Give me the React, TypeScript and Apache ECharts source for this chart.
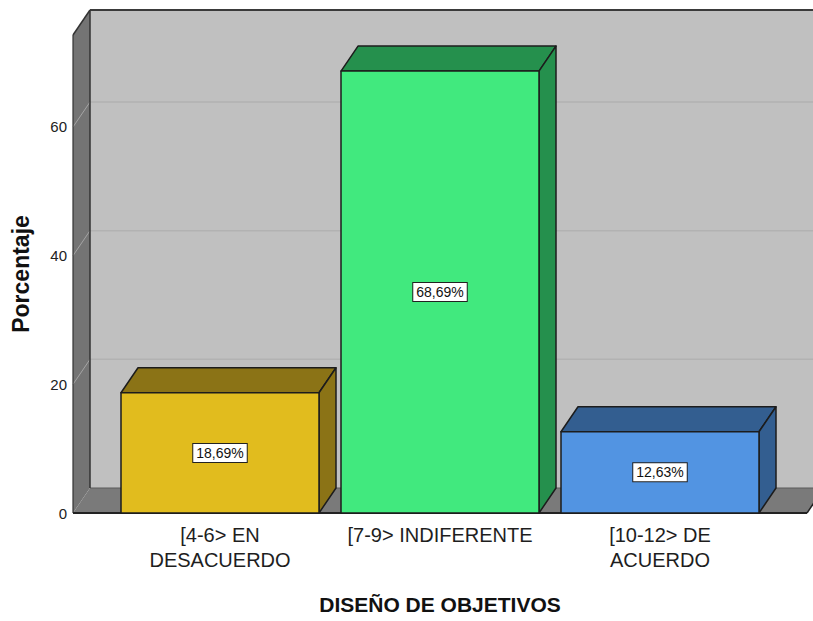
import React, { useEffect, useRef } from "react";
import * as echarts from "echarts";

const categories = ["[4-6> EN\nDESACUERDO", "[7-9> INDIFERENTE", "[10-12> DE\nACUERDO"];
const percentages = [18.69, 68.69, 12.63];
const frontColors = ["#E1BC1E", "#41E97E", "#5294E2"];
const sideColors = ["#8B7316", "#25904D", "#335E90"];
const yTicks = [0, 20, 40, 60];
const yMax = 74.3;
const xTitle = "DISEÑO DE OBJETIVOS";
const yTitle = "Porcentaje";

const DX = 17;
const DY = -25;
const FONT = "'Liberation Sans', Arial, sans-serif";

const fmt = (v: number) => v.toFixed(2).replace(".", ",") + "%";

export default function App() {
  const ref = useRef<HTMLDivElement>(null);
  useEffect(() => {
    if (!ref.current) return;
    const chart = echarts.init(ref.current, null, { renderer: "svg" });
    const option: any = {
      animation: false,
      backgroundColor: "#ffffff",
      grid: { left: 110, right: 43, top: 35, bottom: 108 },
      xAxis: {
        type: "category",
        data: categories,
        axisLine: { show: false },
        axisTick: { show: false },
        axisLabel: {
          interval: 0,
          hideOverlap: false,
          margin: 9,
          fontSize: 20,
          lineHeight: 25,
          color: "#1e1e1e",
          fontFamily: FONT,
        },
        name: xTitle,
        nameLocation: "middle",
        nameGap: 81,
        nameTextStyle: { fontSize: 21, fontWeight: "bold", color: "#111", fontFamily: FONT },
      },
      yAxis: {
        type: "value",
        min: 0,
        max: yMax,
        interval: 20,
        splitLine: { show: false },
        axisLine: { show: false },
        axisTick: { show: false },
        axisLabel: {
          margin: 43,
          fontSize: 15,
          color: "#222",
          fontFamily: FONT,
          formatter: (v: number) => (yTicks.includes(v) ? String(v) : ""),
        },
        name: yTitle,
        nameLocation: "middle",
        nameGap: 78,
        nameTextStyle: { fontSize: 23, fontWeight: "bold", color: "#111", fontFamily: FONT },
      },
      series: [
        {
          type: "custom",
          silent: true,
          data: [[0, 0]],
          renderItem: (params: any, api: any) => {
            const cs = params.coordSys;
            const L = cs.x - 37;
            const R = cs.x + cs.width + 37;
            const T = cs.y;
            const B = cs.y + cs.height;
            const RB = R + DX + 30;
            const children: any[] = [
              { type: "polygon", shape: { points: [[L + DX, T + DY], [RB, T + DY], [RB, B + DY], [L + DX, B + DY]] }, style: { fill: "#C0C0C0" } },
              { type: "polygon", shape: { points: [[L, T], [L + DX, T + DY], [L + DX, B + DY], [L, B]] }, style: { fill: "#747474" } },
              { type: "polygon", shape: { points: [[L, B], [R, B], [R + DX, B + DY], [L + DX, B + DY]] }, style: { fill: "#7a7a7a" } },
            ];
            yTicks.filter((t) => t > 0).forEach((t) => {
              const y = api.coord([0, t])[1];
              children.push({ type: "line", shape: { x1: L + DX, y1: y + DY, x2: RB, y2: y + DY }, style: { stroke: "#b2b2b2", lineWidth: 1.5 } });
              children.push({ type: "line", shape: { x1: L, y1: y, x2: L + DX, y2: y + DY }, style: { stroke: "#a4a4a4", lineWidth: 1 } });
            });
            const edge = (x1: number, y1: number, x2: number, y2: number, c: string, w: number) =>
              children.push({ type: "line", shape: { x1, y1, x2, y2 }, style: { stroke: c, lineWidth: w } });
            edge(L + DX, B + DY, RB, B + DY, "#5a5a5a", 1);
            edge(L + DX, T + DY, L + DX, B + DY, "#333", 1.5);
            edge(L + DX, T + DY, RB, T + DY, "#3a3a3a", 2);
            edge(L, T, L + DX, T + DY, "#333", 1.5);
            edge(L, T, L, B, "#333", 1.2);
            edge(L, B, R, B, "#222", 2);
            edge(R, B, R + DX, B + DY, "#222", 1.5);
            return { type: "group", children };
          },
          z: 1,
        },
        {
          type: "custom",
          data: percentages.map((v, i) => [i, v]),
          encode: { x: 0, y: 1 },
          renderItem: (params: any, api: any) => {
            const i = api.value(0);
            const v = api.value(1);
            const idx = params.dataIndex;
            const base = api.coord([i, 0]);
            const top = api.coord([i, v]);
            const w = api.size([1, 0])[0] * 0.9;
            const x0 = base[0] - w / 2;
            const x1 = base[0] + w / 2;
            const y0 = top[1];
            const y1 = base[1];
            const stroke = { stroke: "#1c1c1c", lineWidth: 1.5, lineJoin: "round" };
            return {
              type: "group",
              children: [
                { type: "polygon", shape: { points: [[x0, y0], [x0 + DX, y0 + DY], [x1 + DX, y0 + DY], [x1, y0]] }, style: { fill: sideColors[idx], ...stroke } },
                { type: "polygon", shape: { points: [[x1, y0], [x1 + DX, y0 + DY], [x1 + DX, y1 + DY], [x1, y1]] }, style: { fill: sideColors[idx], ...stroke } },
                { type: "rect", shape: { x: x0, y: y0, width: x1 - x0, height: y1 - y0 }, style: { fill: frontColors[idx], ...stroke } },
                {
                  type: "text",
                  x: base[0],
                  y: (y0 + y1) / 2,
                  style: {
                    text: fmt(v),
                    align: "center",
                    verticalAlign: "middle",
                    fontSize: 14,
                    lineHeight: 14,
                    fontFamily: FONT,
                    fill: "#111",
                    backgroundColor: "#ffffff",
                    borderColor: "#222",
                    borderWidth: 1,
                    padding: [2, 3],
                  },
                },
              ],
            };
          },
          z: 2,
        },
      ],
    };
    chart.setOption(option);
    return () => chart.dispose();
  }, []);
  return <div ref={ref} style={{ position: "absolute", left: 0, top: 0, width: 813, height: 621 }} />;
}
